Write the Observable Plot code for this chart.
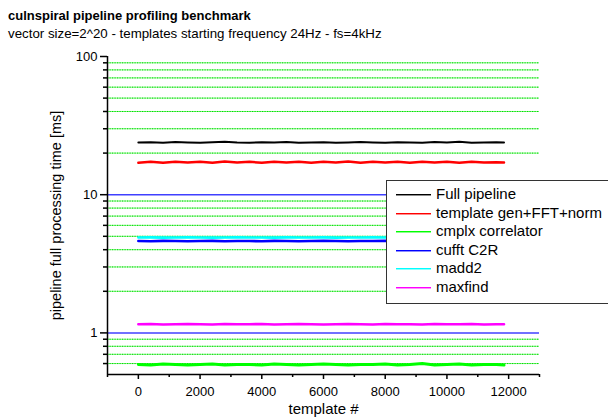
<!DOCTYPE html>
<html>
<head>
<meta charset="utf-8">
<script src="https://cdn.jsdelivr.net/npm/d3@7"></script>
<script src="https://cdn.jsdelivr.net/npm/@observablehq/plot@0.6"></script>
<style>
  html, body { margin: 0; padding: 0; background: #fff; overflow: hidden; width: 608px; height: 420px; }
  body { position: relative; font-family: "Liberation Sans", Arial, sans-serif; color: #000; }
  #title { position: absolute; left: 8px; top: 8px; font-size: 13px; font-weight: bold; white-space: nowrap; line-height: 15px; }
  #subtitle { position: absolute; left: 8px; top: 26px; font-size: 13.3px; white-space: nowrap; line-height: 15px; }
  #chart { position: absolute; left: 0; top: 44px; }
  #legend { position: absolute; left: 386px; top: 180px; width: 260px; height: 124px; border: 1px solid #333; background: #fff; box-sizing: border-box; }
  .row { position: absolute; left: 0; width: 250px; height: 18px; }
  .swatch { position: absolute; left: 9px; top: 9px; width: 35px; height: 1px; }
  .label { position: absolute; left: 49px; top: 0; line-height: 18px; font-size: 15px; white-space: nowrap; }
</style>
</head>
<body>
<div id="title">culnspiral pipeline profiling benchmark</div>
<div id="subtitle">vector size=2^20 - templates starting frequency 24Hz - fs=4kHz</div>
<div id="chart"></div>
<div id="legend"></div>
<script>
// ---- data ----
const seriesNames = ["Full pipeline", "template gen+FFT+norm", "cmplx correlator", "cufft C2R", "madd2", "maxfind"];
const seriesColors = ["#000000", "#ff0000", "#00ff00", "#0000ff", "#00ffff", "#ff00ff"];

const templates = [
  0, 400, 800, 1200, 1600, 2000, 2400, 2800, 3200, 3600,
  4000, 4400, 4800, 5200, 5600, 6000, 6400, 6800, 7200, 7600,
  8000, 8400, 8800, 9200, 9600, 10000, 10400, 10800, 11200, 11600,
  11850
];
const fullPipeline = [
  23.9, 24.0, 23.8, 24.1, 23.9, 23.8, 24.0, 24.2, 23.9, 23.8,
  24.0, 23.9, 24.1, 23.8, 23.9, 24.0, 23.8, 23.9, 24.1, 23.9,
  23.8, 24.0, 23.9, 23.8, 24.1, 23.9, 24.2, 23.8, 23.9, 24.0,
  23.9
];
const templateGen = [
  17.0, 17.3, 17.0, 17.3, 17.1, 17.3, 17.0, 17.4, 17.1, 17.3,
  17.0, 17.3, 17.1, 17.3, 17.0, 17.3, 17.1, 17.4, 17.0, 17.3,
  17.1, 17.3, 17.0, 17.3, 17.1, 17.3, 17.0, 17.3, 17.1, 17.2,
  17.1
];
const cmplxCorrelator = [
  0.590, 0.585, 0.595, 0.590, 0.585, 0.590, 0.595, 0.585, 0.590, 0.590,
  0.585, 0.595, 0.590, 0.585, 0.590, 0.595, 0.590, 0.585, 0.590, 0.590,
  0.595, 0.585, 0.590, 0.600, 0.585, 0.590, 0.595, 0.585, 0.590, 0.590,
  0.585
];
const cufftC2R = [
  4.62, 4.61, 4.63, 4.62, 4.60, 4.62, 4.63, 4.61, 4.62, 4.62,
  4.61, 4.63, 4.62, 4.61, 4.62, 4.63, 4.62, 4.61, 4.62, 4.62,
  4.63, 4.61, 4.62, 4.62, 4.61, 4.63, 4.62, 4.61, 4.62, 4.62,
  4.62
];
const madd2 = [
  4.90, 4.91, 4.89, 4.90, 4.91, 4.90, 4.89, 4.90, 4.91, 4.90,
  4.90, 4.89, 4.91, 4.90, 4.90, 4.91, 4.89, 4.90, 4.90, 4.91,
  4.90, 4.89, 4.90, 4.91, 4.90, 4.90, 4.89, 4.91, 4.90, 4.90,
  4.90
];
const maxfind = [
  1.155, 1.160, 1.150, 1.155, 1.160, 1.155, 1.150, 1.160, 1.155, 1.155,
  1.160, 1.150, 1.155, 1.160, 1.155, 1.150, 1.155, 1.160, 1.155, 1.150,
  1.160, 1.155, 1.155, 1.150, 1.160, 1.155, 1.155, 1.160, 1.150, 1.155,
  1.155
];
const seriesValues = [fullPipeline, templateGen, cmplxCorrelator, cufftC2R, madd2, maxfind];
const seriesWidths = [2, 2.5, 3, 2.6, 2.6, 2.6];

const xMajorTicks = [0, 2000, 4000, 6000, 8000, 10000, 12000];
const xMinorTicks = [-1000, 1000, 3000, 5000, 7000, 9000, 11000, 13000];
const yMajorTicks = [1, 10, 100];
const yMinorTicks = [0.6, 0.7, 0.8, 0.9, 2, 3, 4, 5, 6, 7, 8, 9, 20, 30, 40, 50, 60, 70, 80, 90];
const yGridMajor = [1, 10];
const yGridMinor = [0.6, 0.7, 0.8, 0.9, 2, 3, 4, 5, 6, 7, 8, 9, 20, 30, 40, 50, 60, 70, 80, 90];
const xDomain = [-1000, 13000];
const yDomain = [0.5, 100];
const xLabel = "template #";
const yLabel = "pipeline full processing time [ms]";

// ---- build table ----
const rows = [];
seriesNames.forEach((name, i) => {
  templates.forEach((t, j) => rows.push({series: name, template: t, value: seriesValues[i][j]}));
});

const lineMarks = seriesNames.map((name, i) =>
  Plot.line(rows.filter(d => d.series === name), {
    x: "template", y: "value", stroke: seriesColors[i], strokeWidth: seriesWidths[i]
  })
);

const chart = Plot.plot({
  width: 608,
  height: 376,
  marginTop: 12,
  marginLeft: 107,
  marginRight: 69,
  marginBottom: 46,
  style: {fontFamily: "'Liberation Sans', Arial, sans-serif", color: "#000", background: "transparent"},
  x: {domain: xDomain, label: null},
  y: {type: "log", domain: yDomain, label: null},
  marks: [
    Plot.ruleY(yGridMinor, {stroke: "#7cf57c", strokeWidth: 1}),
    Plot.ruleY(yGridMinor, {stroke: "#00dd00", strokeWidth: 1, strokeDasharray: "1.2,1.3"}),
    Plot.ruleY(yGridMajor, {stroke: "#4040ff", strokeWidth: 1.5}),
    ...lineMarks,
    Plot.ruleX([xDomain[0]], {stroke: "#000", strokeWidth: 1.5}),
    Plot.ruleY([yDomain[0]], {stroke: "#000", strokeWidth: 1.5}),
    Plot.axisX(xMajorTicks, {tickSize: 5, tickPadding: 7, fontSize: 13, label: null, tickFormat: d => String(d), strokeWidth: 1.5}),
    Plot.axisX(xMinorTicks, {tickSize: 3, tickFormat: () => "", label: null, strokeWidth: 1.5}),
    Plot.axisY(yMajorTicks, {tickSize: 7, tickPadding: 3, fontSize: 13, label: null, tickFormat: d => String(d), strokeWidth: 1.5}),
    Plot.axisY(yMinorTicks, {tickSize: 4, tickFormat: () => "", label: null, strokeWidth: 1.5}),
    Plot.text([xLabel], {frameAnchor: "bottom", dy: 39, fontSize: 15}),
    Plot.text([yLabel], {frameAnchor: "left", textAnchor: "middle", dx: -51, rotate: -90, fontSize: 14.5})
  ]
});
document.getElementById("chart").appendChild(chart);

// ---- legend ----
const legend = document.getElementById("legend");
seriesNames.forEach((name, i) => {
  const row = document.createElement("div");
  row.className = "row";
  row.style.top = Math.round(4 + i * 18.5) + "px";
  const sw = document.createElement("div");
  sw.className = "swatch";
  sw.style.background = seriesColors[i];
  const halo = d3.color(seriesColors[i]).copy({opacity: 0.45}).toString();
  sw.style.boxShadow = `0 1px 0 ${halo}`;
  const label = document.createElement("div");
  label.className = "label";
  label.textContent = name;
  row.appendChild(sw);
  row.appendChild(label);
  legend.appendChild(row);
});
</script>
</body>
</html>
